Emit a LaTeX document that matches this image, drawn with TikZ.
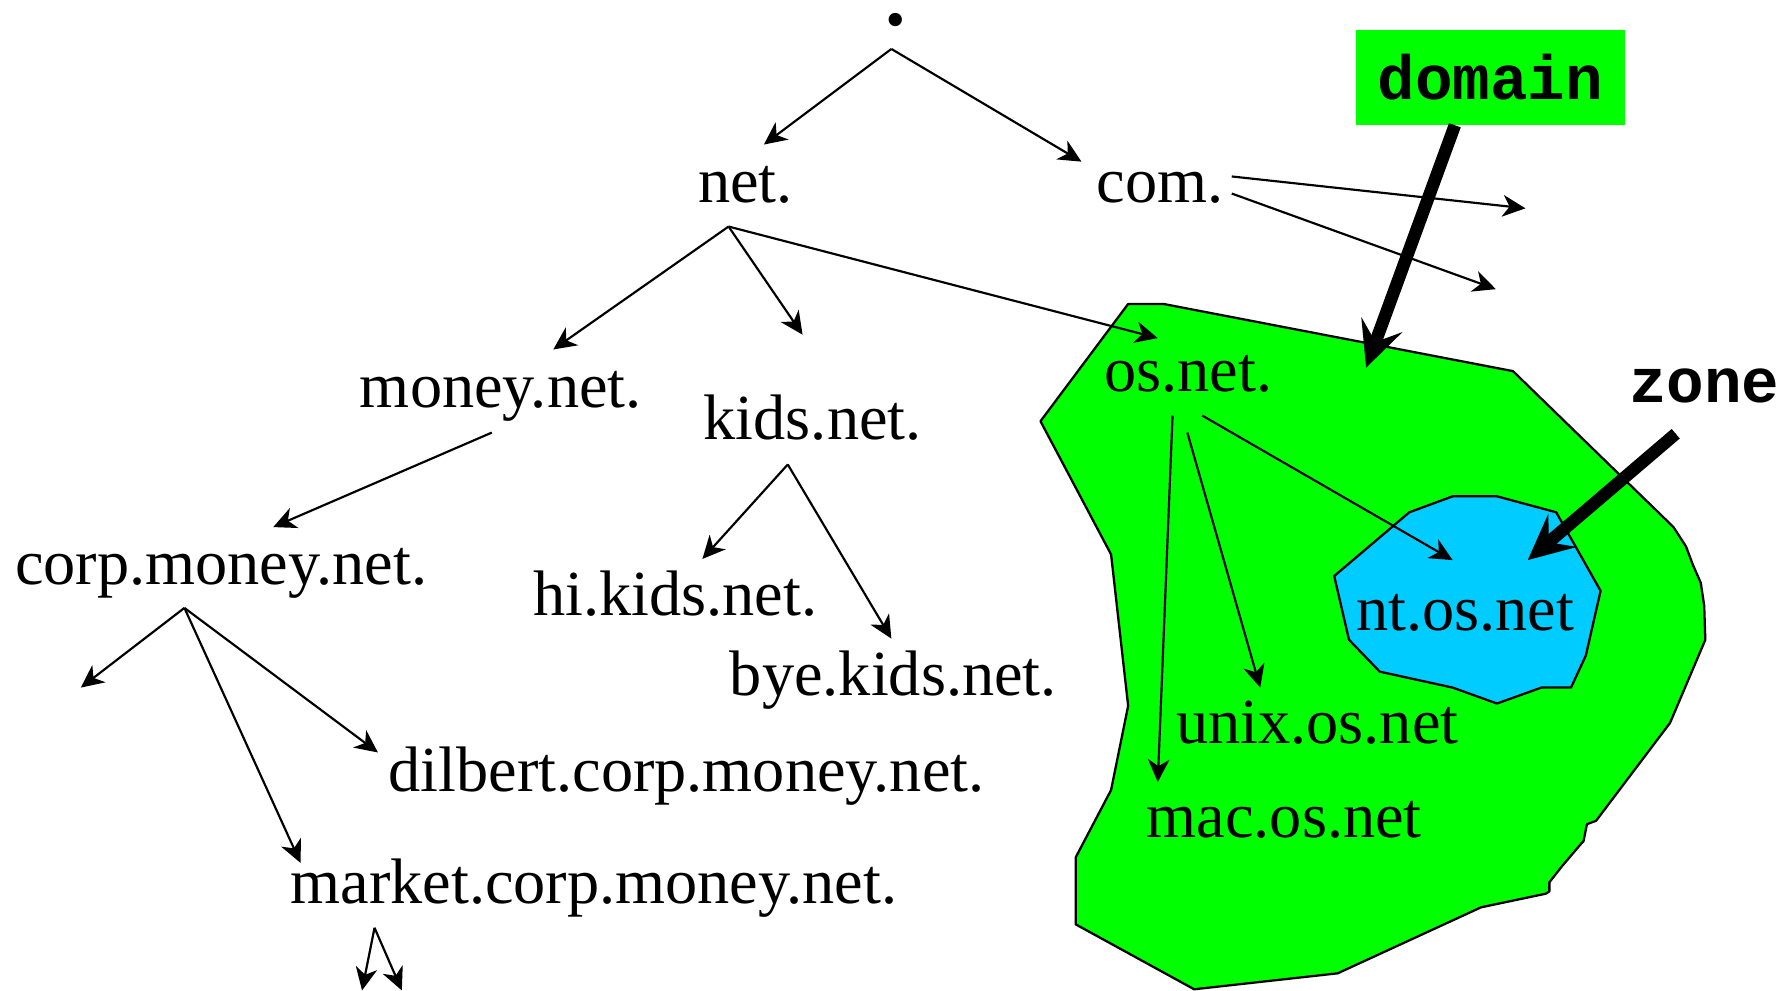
\documentclass[tikz,border=0pt]{standalone}
\usepackage{fontspec}
\setmainfont{Liberation Serif}
\newfontfamily\labelmono{Liberation Mono}
\usetikzlibrary{arrows.meta}
\definecolor{domaingreen}{RGB}{0,255,0}
\definecolor{zoneblue}{RGB}{0,204,255}

\begin{document}
\begin{tikzpicture}[x=1pt,y=-1pt,
  dname/.style={anchor=base west, inner sep=0pt, font=\fontsize{56.5}{60}\selectfont},
  link/.style={line width=1.9pt, -{Stealth[length=20pt,width=19pt,inset=6pt]}},
  pointer/.style={line width=11pt, -{Stealth[length=40pt,width=38pt,inset=16pt]}},
  tag/.style={font=\labelmono\bfseries\fontsize{55}{60}\selectfont, inner sep=0pt},
  region/.style={draw=black, line width=2pt, line join=round}]

\useasboundingbox (0,0) rectangle (1568,870);
\clip (0,0) rectangle (1568,870);

% the os.net domain
\draw[region, fill=domaingreen]
  (991,267) -- (1022,267) -- (1329,326) -- (1470,463) -- (1481,480) -- (1487,496)
  -- (1494,512) -- (1497,532) -- (1498,562) -- (1467,635) -- (1402,721) -- (1394,724)
  -- (1391,739) -- (1389,741) -- (1372,761) -- (1361,775) -- (1361,783) -- (1358,785)
  -- (1301,797) -- (1175,855) -- (1049,869) -- (945,812) -- (945,753) -- (976,694)
  -- (991,620) -- (976,487) -- (914,370) -- cycle;

% the nt.os.net zone
\draw[region, fill=zoneblue]
  (1172,506) -- (1238,450) -- (1276,436) -- (1315,436) -- (1367,450) -- (1406,519)
  -- (1393,576) -- (1380,604) -- (1354,604) -- (1315,618) -- (1276,604) -- (1212,590)
  -- (1185,562) -- cycle;

% names
\node[anchor=base west, inner sep=0pt, font=\bfseries\fontsize{72}{72}\selectfont] (root) at (778,22) {.};
\node[dname] (net)    at (613,178) {net.};
\node[dname] (com)    at (963,178) {com.};
\node[dname] (money)  at (316,358) {money.net.};
\node[dname] (kids)   at (618,386) {kids.net.};
\node[dname] (corp)   at (13,513)  {corp.money.net.};
\node[dname] (hi)     at (468,541) {hi.kids.net.};
\node[dname] (bye)    at (641,611) {bye.kids.net.};
\node[dname] (dilbert) at (341,695) {dilbert.corp.money.net.};
\node[dname] (market) at (255,794) {market.corp.money.net.};
\node[dname] (os)     at (970,344) {os.net.};
\node[dname] (nt)     at (1191,554) {nt.os.net};
\node[dname] (unix)   at (1033,653) {unix.os.net};
\node[dname] (mac)    at (1007,736) {mac.os.net};

% labels
\node[tag, fill=domaingreen, minimum width=236pt, minimum height=83pt] (domain) at (1309,68) {domain};
\node[tag, anchor=base west] (zone) at (1431,354) {zone};

% branch points and arrow ends
\coordinate (root-out) at (783,43);
\coordinate (net-in) at (671,127);
\coordinate (com-in) at (950,142);
\coordinate (com-outA) at (1082,155);
\coordinate (com-outB) at (1082,170);
\coordinate (com-endA) at (1340,183);
\coordinate (com-endB) at (1314,254);
\coordinate (net-out) at (640,199);
\coordinate (money-in) at (486,307);
\coordinate (kids-in) at (705,294);
\coordinate (os-in) at (1017,297);
\coordinate (money-out) at (432,380);
\coordinate (corp-in) at (240,463);
\coordinate (kids-out) at (692,408);
\coordinate (hi-in) at (617,491);
\coordinate (bye-in) at (783,561);
\coordinate (corp-out) at (162,534);
\coordinate (corp-end) at (71,604);
\coordinate (market-in) at (264,758);
\coordinate (dilbert-in) at (332,661);
\coordinate (market-out) at (329,815);
\coordinate (market-endA) at (318,870);
\coordinate (market-endB) at (353,870);
\coordinate (os-outA) at (1030,365);
\coordinate (os-outB) at (1043,380);
\coordinate (os-outC) at (1056,365);
\coordinate (mac-in) at (1017,687);
\coordinate (unix-in) at (1107,604);
\coordinate (nt-in) at (1276,492);
\coordinate (domain-tip) at (1200,323);
\coordinate (domain-base) at (1278,110);
\coordinate (zone-base) at (1472,381);
\coordinate (zone-tip) at (1342,492);

% tree edges
\draw[link] (root-out) -- (net-in);
\draw[link] (root-out) -- (com-in);
\draw[link] (com-outA) -- (com-endA);
\draw[link] (com-outB) -- (com-endB);
\draw[link] (net-out) -- (money-in);
\draw[link] (net-out) -- (kids-in);
\draw[link] (net-out) -- (os-in);
\draw[link] (money-out) -- (corp-in);
\draw[link] (kids-out) -- (hi-in);
\draw[link] (kids-out) -- (bye-in);
\draw[link] (corp-out) -- (corp-end);
\draw[link] (corp-out) -- (market-in);
\draw[link] (corp-out) -- (dilbert-in);
\draw[link] (market-out) -- (market-endA);
\draw[link] (market-out) -- (market-endB);
\draw[link] (os-outA) -- (mac-in);
\draw[link] (os-outB) -- (unix-in);
\draw[link] (os-outC) -- (nt-in);

% pointers from the labels
\draw[pointer] (domain-base) -- (domain-tip);
\draw[pointer] (zone-base) -- (zone-tip);
\end{tikzpicture}
\end{document}
